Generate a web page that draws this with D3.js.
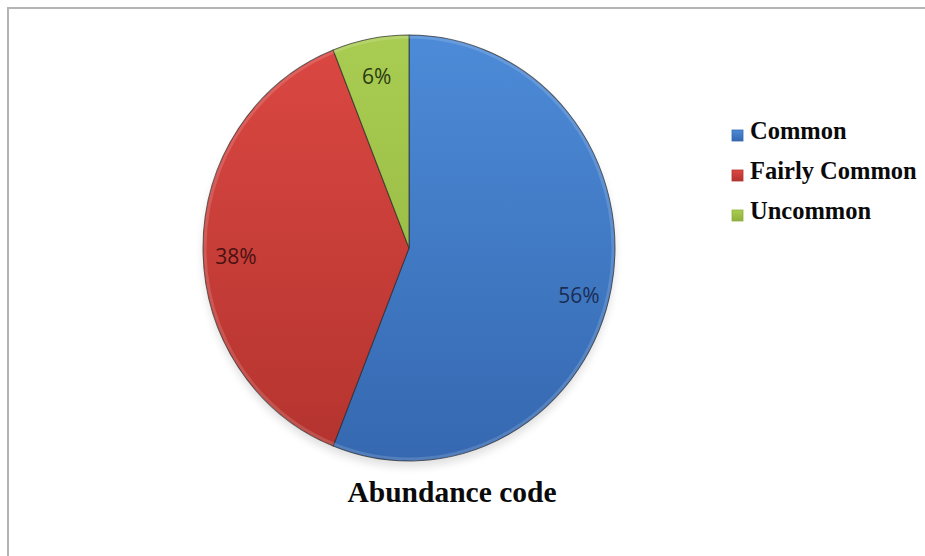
<!DOCTYPE html>
<html>
<head>
<meta charset="utf-8">
<script src="https://cdn.jsdelivr.net/npm/d3@7"></script>
<style>
  html, body { margin: 0; padding: 0; background: #fff; }
  svg { display: block; }
</style>
</head>
<body>
<svg id="chart" width="925" height="556"></svg>
<script>
// ---- data ----
const categories = ["Common", "Fairly Common", "Uncommon"];
const values = [56, 38, 6];
const labels = ["56%", "38%", "6%"];
const title = "Abundance code";

// ---- styles ----
const topColors = ["#4d8bd8", "#dc4843", "#a9cd52"];
const botColors = ["#3568b0", "#b3332e", "#90b03d"];
const labelColors = ["#1a2d55", "#4a1212", "#2a3a10"];

const svg = d3.select("#chart");
const W = 925, H = 556;

// chart border
svg.append("path")
  .attr("d", `M8,${H} L8,8 L${W},8`)
  .attr("fill", "none")
  .attr("stroke", "#b4b4b4")
  .attr("stroke-width", 2);

const defs = svg.append("defs");
categories.forEach((c, i) => {
  const g = defs.append("linearGradient")
    .attr("id", "grad" + i)
    .attr("gradientUnits", "userSpaceOnUse")
    .attr("x1", 0).attr("y1", -210).attr("x2", 0).attr("y2", 210);
  g.append("stop").attr("offset", "0%").attr("stop-color", topColors[i]);
  g.append("stop").attr("offset", "100%").attr("stop-color", botColors[i]);
  const lg = defs.append("linearGradient")
    .attr("id", "lgrad" + i)
    .attr("x1", 0).attr("y1", 0).attr("x2", 0).attr("y2", 1);
  lg.append("stop").attr("offset", "0%").attr("stop-color", topColors[i]);
  lg.append("stop").attr("offset", "100%").attr("stop-color", botColors[i]);
});
const blur = defs.append("filter").attr("id", "shadow")
  .attr("x", "-20%").attr("y", "-20%").attr("width", "140%").attr("height", "140%");
blur.append("feGaussianBlur").attr("stdDeviation", 4);

const cx = 409, cy = 248, R = 206, sy = 213 / 206;

// shadow
svg.append("ellipse")
  .attr("cx", cx).attr("cy", cy + 6)
  .attr("rx", R).attr("ry", R * sy)
  .attr("fill", "#000").attr("opacity", 0.12)
  .attr("filter", "url(#shadow)");

const pie = d3.pie().sort(null).value(d => d)(values);
const arc = d3.arc().innerRadius(0).outerRadius(R);

const g = svg.append("g")
  .attr("transform", `translate(${cx},${cy}) scale(1,${sy})`);

g.selectAll("path.slice")
  .data(pie)
  .join("path")
  .attr("class", "slice")
  .attr("d", arc)
  .attr("fill", (d, i) => `url(#grad${i})`)
  .attr("stroke", "#2a2a2a")
  .attr("stroke-opacity", 0.7)
  .attr("stroke-width", 1)
  .attr("stroke-linejoin", "round");

// subtle bevel highlight on rim
g.append("circle")
  .attr("r", R - 2)
  .attr("fill", "none")
  .attr("stroke", "#fff")
  .attr("stroke-opacity", 0.15)
  .attr("stroke-width", 3);

// labels
const labelArc = d3.arc().innerRadius(R * 0.84).outerRadius(R * 0.84);
const labelDy = [13, 8, 4];
svg.selectAll("text.plabel")
  .data(pie)
  .join("text")
  .attr("class", "plabel")
  .attr("x", d => cx + labelArc.centroid(d)[0])
  .attr("y", (d, i) => cy + labelArc.centroid(d)[1] * sy + labelDy[i])
  .attr("text-anchor", "middle")
  .attr("dominant-baseline", "central")
  .attr("font-family", "'Open Sans', sans-serif")
  .attr("font-size", 21)
  .attr("fill", (d, i) => labelColors[i])
  .text((d, i) => labels[i]);

// legend
const legend = svg.append("g").attr("transform", "translate(732,139)");
const item = legend.selectAll("g.item")
  .data(categories)
  .join("g")
  .attr("class", "item")
  .attr("transform", (d, i) => `translate(0,${i * 40})`);
item.append("rect")
  .attr("x", 0).attr("y", -9)
  .attr("width", 11).attr("height", 11)
  .attr("fill", (d, i) => `url(#lgrad${i})`)
  .attr("stroke", (d, i) => botColors[i])
  .attr("stroke-width", 0.8);
item.append("text")
  .attr("x", 18).attr("y", 0)
  .attr("font-family", "'Liberation Serif', 'Times New Roman', serif")
  .attr("font-weight", "bold")
  .attr("font-size", 24.5)
  .attr("fill", "#0a0a0a")
  .text(d => d);

// title
svg.append("text")
  .attr("x", 452).attr("y", 502)
  .attr("text-anchor", "middle")
  .attr("font-family", "'Liberation Serif', 'Times New Roman', serif")
  .attr("font-weight", "bold")
  .attr("font-size", 29.5)
  .attr("fill", "#0a0a0a")
  .text(title);
</script>
</body>
</html>
